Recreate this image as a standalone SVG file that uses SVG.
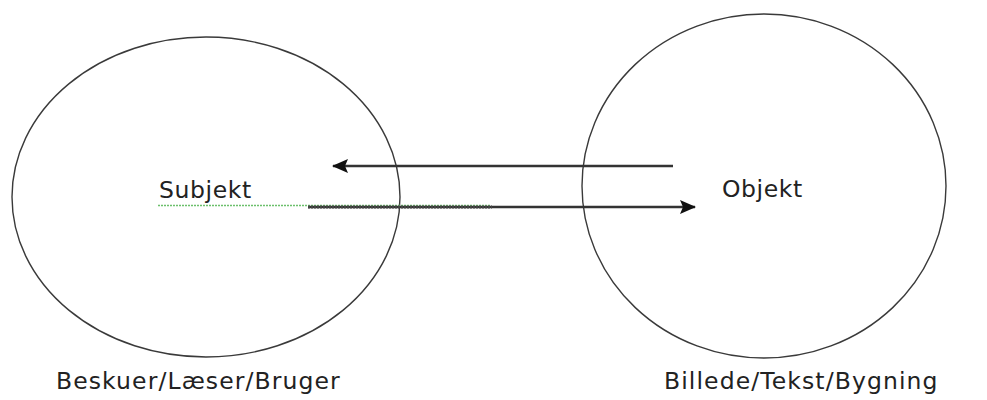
<svg xmlns="http://www.w3.org/2000/svg" width="987" height="400" viewBox="0 0 987 400">
<style>
.el{fill:none;stroke:#3a3a3a;stroke-width:1.4}
.ln{fill:none;stroke:#333;stroke-width:2.4}
text{font-family:"DejaVu Sans","Liberation Sans",sans-serif;font-size:23.5px;fill:#222;letter-spacing:0.6px}
text.cap{letter-spacing:1.1px}
</style>
<defs>
<marker id="ah" markerWidth="16" markerHeight="14" refX="15" refY="7" orient="auto" markerUnits="userSpaceOnUse">
<path d="M0,0 L16,7 L0,14 L3,7 Z" fill="#111"/>
</marker>
</defs>
<rect width="987" height="400" fill="#fff"/>
<g id="subject">
<ellipse class="el" cx="206" cy="197" rx="194" ry="160"/>
<text x="159" y="198">Subjekt</text>
<text class="cap" x="56" y="389">Beskuer/Læser/Bruger</text>
</g>
<g id="object">
<ellipse class="el" cx="764" cy="186" rx="182" ry="172"/>
<text x="722" y="197">Objekt</text>
<text class="cap" x="664" y="389">Billede/Tekst/Bygning</text>
</g>
<g id="connectors">
<line class="ln" x1="673" y1="166" x2="333" y2="166" marker-end="url(#ah)"/>
<line class="ln" x1="308" y1="207" x2="695" y2="207" marker-end="url(#ah)"/>
<line x1="158" y1="205.5" x2="490" y2="205.5" stroke="#6cc06c" stroke-width="1.3" stroke-dasharray="2,1"/>
<line x1="308" y1="207" x2="492" y2="207" stroke="#444" stroke-width="3" stroke-dasharray="2,1"/>
</g>
</svg>
